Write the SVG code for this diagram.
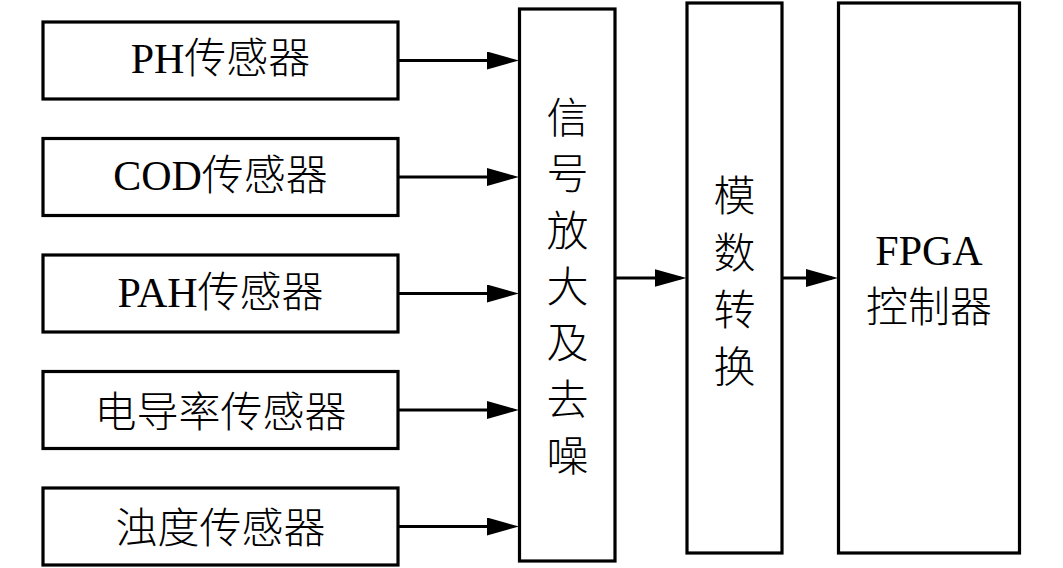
<svg xmlns="http://www.w3.org/2000/svg" width="1063" height="568" viewBox="0 0 1063 568">
<style>
.box{fill:#fff;stroke:#000;stroke-width:3.2}
.t{font-family:"Liberation Serif","Noto Sans CJK SC",serif;font-size:42px;font-weight:300;fill:#000;text-anchor:middle}
.c{fill:none;stroke:#000;stroke-width:3}
</style>
<defs>
<marker id="ah" markerUnits="userSpaceOnUse" markerWidth="32" markerHeight="18" refX="26" refY="9" orient="auto">
<path d="M0,0 L32,9 L0,18 Z" fill="#000"/>
</marker>
</defs>
<rect width="1063" height="568" fill="#fff"/>
<g id="ph">
<rect class="box" x="43" y="22" width="355" height="77"/>
<text class="t" x="220.5" y="73">PH传感器</text>
</g>
<g id="cod">
<rect class="box" x="43" y="138.5" width="355" height="77"/>
<text class="t" x="220.5" y="190">COD传感器</text>
</g>
<g id="pah">
<rect class="box" x="43" y="255" width="355" height="77"/>
<text class="t" x="220.5" y="307">PAH传感器</text>
</g>
<g id="cond">
<rect class="box" x="43" y="371.5" width="355" height="77"/>
<text class="t" x="220.5" y="427">电导率传感器</text>
</g>
<g id="turb">
<rect class="box" x="43" y="488" width="355" height="77"/>
<text class="t" x="220.5" y="543">浊度传感器</text>
</g>
<g id="amp">
<rect class="box" x="519.5" y="9" width="95.5" height="552"/>
<text class="t" x="567.5" y="133">信</text>
<text class="t" x="567.5" y="189">号</text>
<text class="t" x="567.5" y="246">放</text>
<text class="t" x="567.5" y="302">大</text>
<text class="t" x="567.5" y="358">及</text>
<text class="t" x="567.5" y="415">去</text>
<text class="t" x="567.5" y="471">噪</text>
</g>
<g id="adc">
<rect class="box" x="687" y="3" width="95" height="550"/>
<text class="t" x="734.5" y="211">模</text>
<text class="t" x="734.5" y="268">数</text>
<text class="t" x="734.5" y="325">转</text>
<text class="t" x="734.5" y="382">换</text>
</g>
<g id="fpga">
<rect class="box" x="838.5" y="3" width="181" height="550"/>
<text class="t" x="929" y="265">FPGA</text>
<text class="t" x="929" y="322">控制器</text>
</g>
<g id="connectors">
<path class="c" d="M398,60.5 H513" marker-end="url(#ah)"/>
<path class="c" d="M398,177 H513" marker-end="url(#ah)"/>
<path class="c" d="M398,293.5 H513" marker-end="url(#ah)"/>
<path class="c" d="M398,410 H513" marker-end="url(#ah)"/>
<path class="c" d="M398,526.5 H513" marker-end="url(#ah)"/>
<path class="c" d="M615,278 H680.5" marker-end="url(#ah)"/>
<path class="c" d="M782,278 H832" marker-end="url(#ah)"/>
</g>
</svg>
